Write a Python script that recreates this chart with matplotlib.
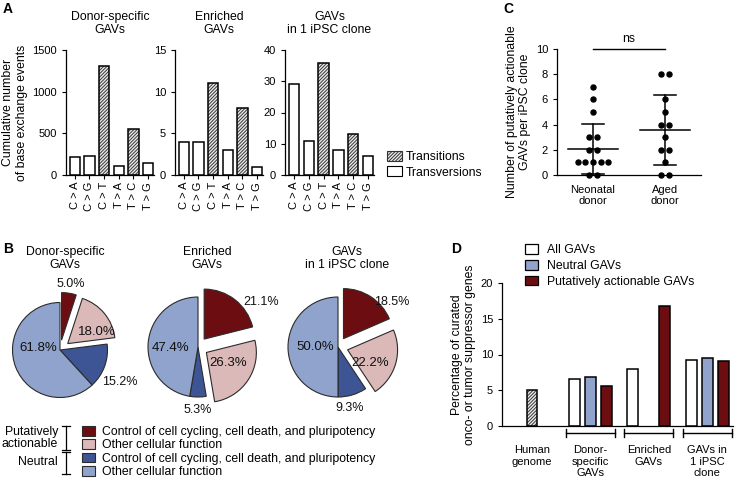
import numpy as np
import matplotlib
matplotlib.use('Agg')
import matplotlib.pyplot as plt
from matplotlib.patches import Patch

plt.rcParams['font.family'] = ['Liberation Sans', 'DejaVu Sans']
plt.rcParams['font.size'] = 8.5
plt.rcParams['axes.linewidth'] = 0.9
plt.rcParams['hatch.linewidth'] = 0.7

W, H = 738, 483

# ---- panel A: base exchange events
mutation_types = ['C > A', 'C > G', 'C > T', 'T > A', 'T > C', 'T > G']
is_transition = [False, False, True, False, True, False]
donor_specific_counts = [212, 228, 1305, 112, 552, 140]
enriched_counts = [4, 4, 11, 3, 8, 1]
single_clone_counts = [29, 11, 36, 8, 13, 6]
gav_titles = ['Donor-specific\nGAVs', 'Enriched\nGAVs', 'GAVs\nin 1 iPSC clone']
a_yticks = [[0, 500, 1000, 1500], [0, 5, 10, 15], [0, 10, 20, 30, 40]]

# ---- panel B: functional categories (%)
pie_categories = ['Control of cell cycling, cell death, and pluripotency',
                  'Other cellular function',
                  'Control of cell cycling, cell death, and pluripotency',
                  'Other cellular function']
donor_specific_pct = [5.0, 18.0, 15.2, 61.8]
enriched_pct = [21.1, 26.3, 5.3, 47.4]
single_clone_pct = [18.5, 22.2, 9.3, 50.0]

# ---- panel C: actionable GAVs per clone
c_groups = ['Neonatal\ndonor', 'Aged\ndonor']
neonatal_counts = [7, 6, 5, 3, 3, 2, 2, 1, 1, 1, 1, 1, 0, 0]
aged_counts = [8, 8, 6, 5, 4, 4, 3, 2, 2, 1, 0, 0]
c_means = [2.07, 3.58]
c_sds = [2.0, 2.79]

# ---- panel D: curated onco / tumor suppressor genes (%)
d_groups = ['Human\ngenome', 'Donor-\nspecific\nGAVs', 'Enriched\nGAVs', 'GAVs in\n1 iPSC\nclone']
d_series = ['All GAVs', 'Neutral GAVs', 'Putatively actionable GAVs']
human_genome_pct = 5.0
all_gavs_pct = [np.nan, 6.55, 7.95, 9.3]
neutral_pct = [np.nan, 6.8, np.nan, 9.45]
actionable_pct = [np.nan, 5.6, 16.75, 9.15]

DARK_RED = '#6c0e11'
PINK = '#dcb9b9'
DARK_BLUE = '#3e5595'
LIGHT_BLUE = '#8fa3cd'
HATCH = '//////////'


def px_axes(fig, left, top, right, bottom):
    return fig.add_axes([left / W, 1 - bottom / H, (right - left) / W, (bottom - top) / H])


def clean(ax):
    ax.spines['top'].set_visible(False)
    ax.spines['right'].set_visible(False)
    ax.tick_params(direction='out', length=3, width=0.8, labelsize=8)


fig = plt.figure(figsize=(W / 100, H / 100), dpi=100)

# ================= A
a_boxes = [(66, 50, 154, 175), (175, 50, 263, 175), (285, 50, 374, 175)]
a_data = [donor_specific_counts, enriched_counts, single_clone_counts]
x = np.arange(len(mutation_types))
tr = np.array(is_transition)
for i, (box, vals, title, yt) in enumerate(zip(a_boxes, a_data, gav_titles, a_yticks)):
    ax = px_axes(fig, *box)
    vals = np.array(vals)
    ax.bar(x[tr], vals[tr], 0.7, color='#e8e8e8', hatch=HATCH, edgecolor='#3a3a3a', linewidth=0)
    ax.bar(x, vals, 0.7, fill=False, edgecolor='black', linewidth=1.1)
    ax.set_xlim(-0.6, 5.4)
    ax.set_ylim(0, yt[-1])
    ax.set_yticks(yt)
    ax.set_xticks(x)
    ax.set_xticklabels(mutation_types, rotation=90)
    clean(ax)
    ax.tick_params(axis='x', pad=2)
    ax.set_title(title, fontsize=8.8, pad=12, linespacing=1.15)
    if i == 0:
        ax.set_ylabel('Cumulative number\nof base exchange events', fontsize=8.8, labelpad=3)

fig.legend(handles=[Patch(facecolor='#e8e8e8', edgecolor='#333', hatch=HATCH, linewidth=0.8),
                    Patch(facecolor='white', edgecolor='black', linewidth=0.8)],
           labels=['Transitions', 'Transversions'], loc='upper left',
           bbox_to_anchor=(387 / W, 1 - 151 / H), frameon=False, fontsize=8.8,
           handlelength=1.2, handleheight=0.9, handletextpad=0.35, labelspacing=0.25,
           borderpad=0, borderaxespad=0)

# ================= B
pie_colors = [DARK_RED, PINK, DARK_BLUE, LIGHT_BLUE]
pie_data = [donor_specific_pct, enriched_pct, single_clone_pct]
pie_centers = [(60, 350), (198, 347), (338, 347)]
pie_radii = [0.95, 1.0, 1.0]
# (distance, clockwise angle shift) for each wedge label
label_layout = [[(1.13, 0), (0.63, 18), (1.36, 8), (0.44, 26)],
                [(1.37, 19), (0.48, -7), (1.26, 0), (0.56, -7)],
                [(1.21, 20), (0.52, 13), (1.24, 6), (0.46, 0)]]
inside_flags = [False, True, False, True]
for vals, (cx, cy), r, layout in zip(pie_data, pie_centers, pie_radii, label_layout):
    ax = px_axes(fig, cx - 75, cy - 75, cx + 75, cy + 75)
    wedges, _ = ax.pie(vals, colors=pie_colors, startangle=90, counterclock=False,
                       explode=[0.2, 0.2, 0, 0], radius=r,
                       wedgeprops=dict(edgecolor='#2b2b2b', linewidth=0.8))
    ax.set_xlim(-1.5, 1.5)
    ax.set_ylim(-1.5, 1.5)
    ax.axis('off')
    for w, v, (d, shift), ins in zip(wedges, vals, layout, inside_flags):
        ang = np.deg2rad((w.theta1 + w.theta2) / 2 - shift)
        wx, wy = w.center
        ax.text(wx + d * np.cos(ang), wy + d * np.sin(ang), f'{v:.1f}%',
                ha='center', va='center', fontsize=9.5 if ins else 9, color='#111')

fig.legend(handles=[Patch(facecolor=c, edgecolor='#2b2b2b', linewidth=0.8) for c in pie_colors],
           labels=pie_categories, loc='upper left', bbox_to_anchor=(82 / W, 1 - 426 / H),
           frameon=False, fontsize=8.8, handlelength=1.1, handleheight=0.85,
           handletextpad=0.5, labelspacing=0.1, borderpad=0, borderaxespad=0)

# ================= C
ax = px_axes(fig, 557, 49, 701, 175)
spacing = 0.107
for gx, vals in zip([1, 2], [neonatal_counts, aged_counts]):
    vals = np.array(vals)
    for v in np.unique(vals):
        k = np.sum(vals == v)
        offs = (np.arange(k) - (k - 1) / 2) * spacing
        ax.plot(gx + offs, np.full(k, v), 'o', color='black', markersize=3.6, clip_on=False, zorder=3)
for gx, m, s in zip([1, 2], c_means, c_sds):
    ax.plot([gx - 0.35, gx + 0.35], [m, m], color='black', lw=1.1)
    ax.plot([gx, gx], [m - s, m + s], color='black', lw=1.1)
    ax.plot([gx - 0.15, gx + 0.15], [m + s, m + s], color='black', lw=1.1)
    ax.plot([gx - 0.15, gx + 0.15], [m - s, m - s], color='black', lw=1.1)
ax.plot([1, 2], [10, 10], color='black', lw=1, clip_on=False)
ax.text(1.5, 10.35, 'ns', ha='center', va='bottom', fontsize=8.8)
ax.set_xlim(0.5, 2.5)
ax.set_ylim(0, 10)
ax.set_yticks(range(0, 11, 2))
ax.set_xticks([1, 2])
ax.set_xticklabels(c_groups, fontsize=8.5)
clean(ax)
ax.tick_params(axis='x', length=0, pad=7)
ax.set_ylabel('Number of putatively actionable\nGAVs per iPSC clone', fontsize=8.8, labelpad=3)

# ================= D
ax = px_axes(fig, 502, 283, 733, 426)
centers = 1.875 + 3.65 * np.arange(len(d_groups))
bw = 0.67
ax.bar(centers[0], human_genome_pct, bw, color='#e8e8e8', hatch=HATCH, edgecolor='#3a3a3a', linewidth=0)
ax.bar(centers[0], human_genome_pct, bw, fill=False, edgecolor='black', linewidth=1.1)
for off, vals, col in zip([-1, 0, 1], [all_gavs_pct, neutral_pct, actionable_pct],
                          ['white', LIGHT_BLUE, DARK_RED]):
    vals = np.array(vals)
    ok = ~np.isnan(vals)
    ax.bar(centers[ok] + off, vals[ok], bw, color=col, edgecolor='black', linewidth=1.1)
tr_d = ax.get_xaxis_transform()
for c in centers[1:]:
    ax.plot([c - 1.53, c + 1.53], [-0.05, -0.05], color='black', lw=1, transform=tr_d, clip_on=False)
    for e in (c - 1.53, c + 1.53):
        ax.plot([e, e], [-0.078, -0.022], color='black', lw=1, transform=tr_d, clip_on=False)
ax.set_xlim(0, 14.44)
ax.set_ylim(0, 20)
ax.set_yticks([0, 5, 10, 15, 20])
ax.set_xticks(centers)
ax.set_xticklabels(d_groups, fontsize=8.5, linespacing=1.15)
clean(ax)
ax.tick_params(axis='x', length=0, pad=14)
ax.set_ylabel('Percentage of curated\nonco- or tumor suppressor genes', fontsize=8.8, labelpad=3)
fig.legend(handles=[Patch(facecolor=c, edgecolor='black', linewidth=0.9) for c in ['white', LIGHT_BLUE, DARK_RED]],
           labels=d_series, loc='upper left', bbox_to_anchor=(525 / W, 1 - 244 / H),
           frameon=False, fontsize=8.8, handlelength=1.1, handleheight=0.85,
           handletextpad=0.7, labelspacing=0.3, borderpad=0, borderaxespad=0)

# ================= overlay: panel letters, pie titles, brackets
ov = fig.add_axes([0, 0, 1, 1])
ov.set_xlim(0, W)
ov.set_ylim(H, 0)
ov.axis('off')
for letter, (lx, ly) in zip('ABCD', [(3, 2), (3, 242), (503, 2), (451, 242)]):
    ov.text(lx, ly, letter, fontsize=10, fontweight='bold', ha='left', va='top')
for t, tx in zip(gav_titles, [65, 207, 347]):
    ov.text(tx, 246, t, ha='center', va='top', fontsize=8.8, linespacing=1.15)
for y0, y1 in [(426, 450), (452, 474)]:
    ov.plot([66, 66], [y0, y1], color='black', lw=0.9)
    ov.plot([62, 70], [y0, y0], color='black', lw=0.9)
    ov.plot([62, 70], [y1, y1], color='black', lw=0.9)
ov.text(58, 438, 'Putatively\nactionable', ha='right', va='center', fontsize=8.8, linespacing=1.1)
ov.text(58, 462, 'Neutral', ha='right', va='center', fontsize=8.8)

fig.savefig('out.png', dpi=100)
